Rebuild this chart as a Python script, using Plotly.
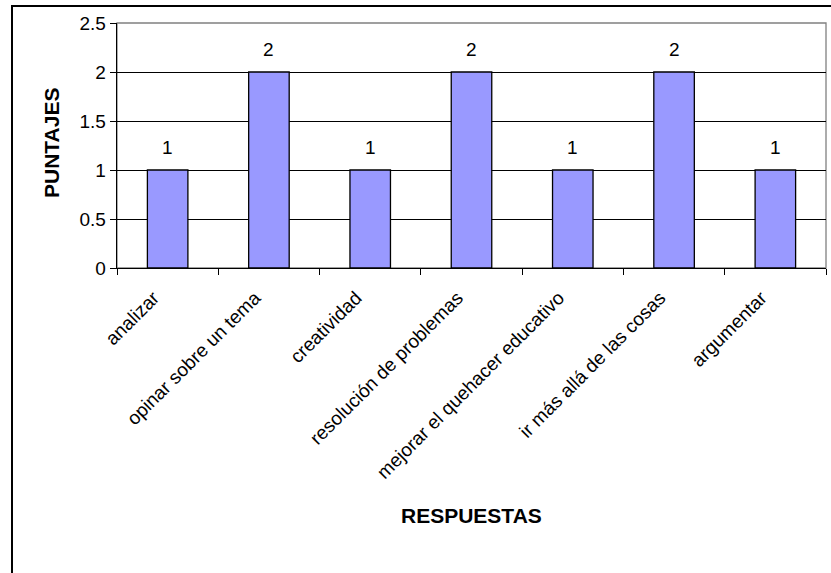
import plotly.graph_objects as go

categories = ["analizar", "opinar sobre un tema", "creatividad",
              "resolución de problemas", "mejorar el quehacer educativo",
              "ir más allá de las cosas", "argumentar"]
values = [1, 2, 1, 2, 1, 2, 1]
y_ticks = [0, 0.5, 1, 1.5, 2, 2.5]
y_tick_labels = ["0", "0.5", "1", "1.5", "2", "2.5"]

W, H = 831, 573
L, R, T, B = 117, 5, 23, 305
pw, ph = W - L - R, H - T - B
FONT = "Liberation Sans, Arial, sans-serif"

fig = go.Figure()
fig.add_trace(go.Bar(
    x=categories, y=values, width=0.4,
    marker=dict(color="#9999FF", line=dict(color="black", width=1.3)),
    hoverinfo="skip",
))

annotations = []
for c, v in zip(categories, values):
    annotations.append(dict(x=c, y=v, xref="x", yref="y", text=str(v),
                            showarrow=False, yanchor="bottom", yshift=10,
                            font=dict(family=FONT, size=19, color="black")))
annotations.append(dict(x=0.5, y=(268 - 515) / ph, xref="paper", yref="paper",
                        text="<b>RESPUESTAS</b>", showarrow=False,
                        xanchor="center", yanchor="middle",
                        font=dict(family=FONT, size=21, color="black")))
annotations.append(dict(x=(51 - L) / pw, y=(268 - 143) / ph, xref="paper", yref="paper",
                        text="<b>PUNTAJES</b>", showarrow=False, textangle=-90,
                        xanchor="center", yanchor="middle",
                        font=dict(family=FONT, size=21, color="black")))

shapes = [
    dict(type="rect", xref="paper", yref="paper", x0=0, y0=0, x1=1, y1=1,
         line=dict(color="#808080", width=1.3), layer="below"),
    dict(type="rect", xref="paper", yref="paper",
         x0=(12 - L) / pw, x1=(W + 20 - L) / pw,
         y0=(268 - (H + 20)) / ph, y1=(268 - 6) / ph,
         line=dict(color="black", width=2), layer="below"),
]

fig.update_layout(
    width=W, height=H,
    margin=dict(l=L, r=R, t=T, b=B, autoexpand=False),
    paper_bgcolor="white", plot_bgcolor="white",
    showlegend=False,
    font=dict(family=FONT, color="black"),
    annotations=annotations, shapes=shapes,
    bargap=0.6,
)
fig.update_xaxes(
    type="category", tickson="boundaries", ticks="outside", ticklen=6,
    tickcolor="black", tickwidth=1, showline=True, linecolor="black", linewidth=1.3,
    showgrid=False, tickangle=-45, tickfont=dict(family=FONT, size=19, color="black"),
    ticklabelshift=-14, ticklabelstandoff=10,
    automargin=False,
)
fig.update_yaxes(
    range=[0, 2.5], tickvals=y_ticks, ticktext=y_tick_labels,
    ticks="outside", ticklen=6, tickcolor="black", tickwidth=1,
    showline=True, linecolor="black", linewidth=1.3,
    showgrid=True, gridcolor="black", gridwidth=1, zeroline=False,
    tickfont=dict(family=FONT, size=19, color="black"), automargin=False,
)

fig.write_html("out.html",
               config={"displayModeBar": False, "staticPlot": True},
               post_script="document.body.style.margin='0';document.body.style.padding='0';")
